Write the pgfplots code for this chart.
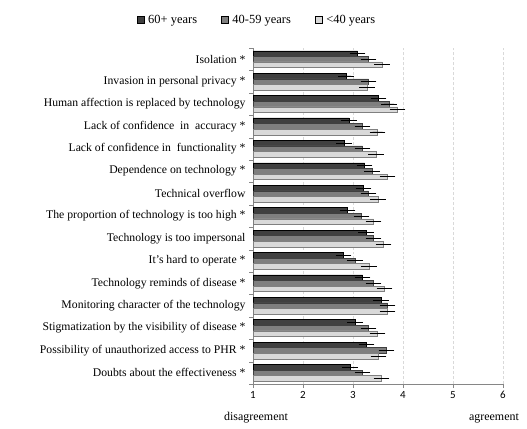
\documentclass[border=0pt]{standalone}
\usepackage{pgfplots}
\pgfplotsset{compat=1.18}
\usepackage{pgfplotstable}
\usepackage{fontspec}
\setmainfont{Liberation Serif}
\newfontfamily\calib{Carlito}
\definecolor{cdark}{HTML}{404040}
\definecolor{cmed}{HTML}{7F7F7F}
\definecolor{clight}{HTML}{D9D9D9}
\definecolor{caxis}{HTML}{868686}
\pgfplotstableread{
y dark med light
14 3.09 3.31 3.58
13 2.86 3.31 3.28
12 3.51 3.72 3.89
11 2.92 3.19 3.49
10 2.82 3.19 3.46
9 3.23 3.38 3.69
8 3.21 3.31 3.50
7 2.89 3.17 3.41
6 3.26 3.41 3.61
5 2.81 3.04 3.32
4 3.19 3.41 3.63
3 3.56 3.69 3.69
2 3.04 3.31 3.49
1 3.27 3.67 3.51
0 2.94 3.19 3.57
}\datatable
\begin{document}
\begin{tikzpicture}
\begin{axis}[
  name=ax,
  xbar, scale only axis, width=250bp, height=336bp,
  xmin=1, xmax=6, ymin=-0.5, ymax=14.5,
  clip=false,
  bar width=5.6bp,
  xtick={1,...,6},
  ytick={0,...,14},
  yticklabels={Doubts about the effectiveness *,
    Possibility of unauthorized access to PHR *,
    Stigmatization by the visibility of disease *,
    Monitoring character of the technology,
    Technology reminds of disease *,
    It's hard to operate *,
    Technology is too impersonal,
    The proportion of technology is too high *,
    Technical overflow,
    Dependence on technology *,
    Lack of confidence in\ \ functionality *,
    Lack of confidence\ \ in\ \ accuracy *,
    Human affection is replaced by technology,
    Invasion in personal privacy *,
    Isolation *},
  minor ytick={-0.5,0.5,...,14.5},
  major y tick style={draw=none},
  minor y tick style={draw=caxis},
  minor tick length=4bp,
  major tick length=4bp,
  tick align=outside,
  axis x line*=bottom, axis y line*=left,
  axis line style={draw=caxis, -},
  x tick style={draw=caxis},
  xmajorgrids, grid style={densely dashed, gray!30},
  yticklabel style={font=\fontsize{11.75}{14}\selectfont},
  xticklabel style={font=\calib\fontsize{11}{12}\selectfont},
  /pgf/number format/assume math mode=true,
  legend columns=3,
  legend style={draw=none, at={(rel axis cs:0.016,1.083)}, anchor=center,
    font=\fontsize{12.5}{14}\selectfont,
    /tikz/every odd column/.append style={column sep=2bp},
    /tikz/every even column/.append style={column sep=22bp}},
  legend image code/.code={\draw[#1,draw=black,line width=0.4pt] (0bp,-3.5bp) rectangle (7bp,3.5bp);},
  error bars/error bar style={black, line width=0.8pt},
  error bars/error mark options={black, line width=0.8pt, mark size=2.8bp},
]
\addplot[fill=cdark, draw=black, line width=0.4pt, bar shift=5.6bp,
  error bars/.cd, x dir=both, x fixed=0.1] table[x=dark, y=y] {\datatable};
\addlegendentry{60+ years}
\addplot[fill=cmed, draw=cdark, line width=0.4pt, bar shift=0bp,
  error bars/.cd, x dir=both, x fixed=0.1] table[x=med, y=y] {\datatable};
\addlegendentry{40-59 years}
\addplot[fill=clight, draw=gray, line width=0.4pt, bar shift=-5.6bp,
  error bars/.cd, x dir=both, x fixed=0.1] table[x=light, y=y] {\datatable};
\addlegendentry{<40 years}
\node[font=\fontsize{12}{14}\selectfont] at (rel axis cs:0.012,-0.101) {disagreement};
\node[font=\fontsize{12}{14}\selectfont] at (rel axis cs:0.964,-0.101) {agreement};
\end{axis}
\pgfresetboundingbox
\path ([shift={(-253bp,-44bp)}]ax.south west) rectangle ([shift={(24bp,48bp)}]ax.north east);
\end{tikzpicture}
\end{document}
